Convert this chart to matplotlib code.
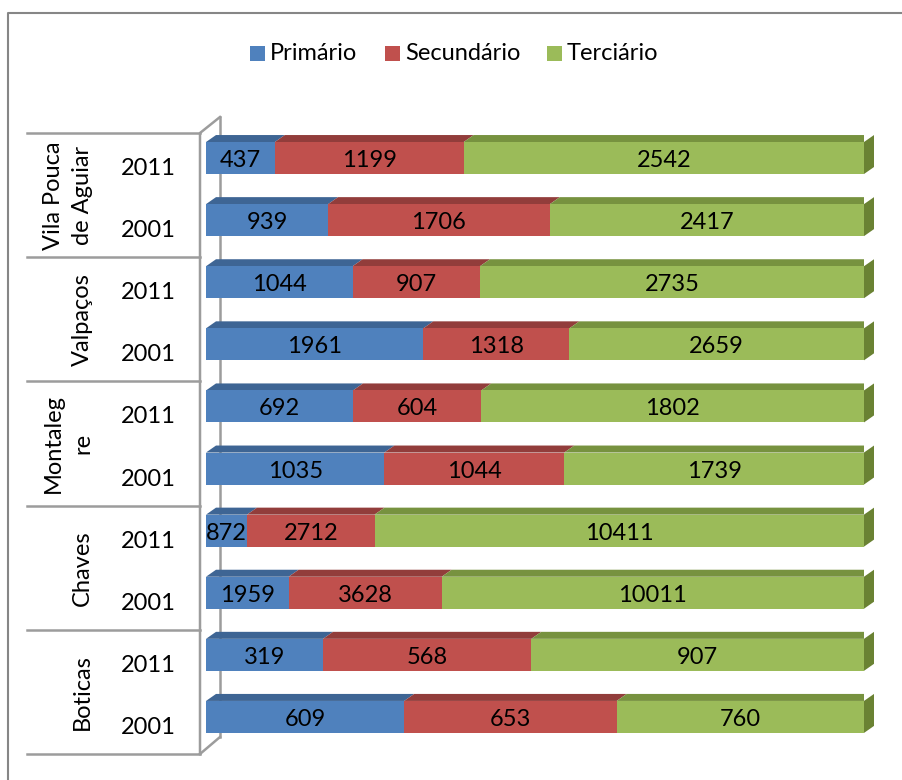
import numpy as np
import matplotlib
matplotlib.use("Agg")
import matplotlib.pyplot as plt
from matplotlib.patches import Polygon, Rectangle
from matplotlib.lines import Line2D

plt.rcParams['font.family'] = ['Lato', 'DejaVu Sans']

### data (bottom to top)
groups = ["Boticas", "Chaves", "Montaleg\nre", "Valpaços", "Vila Pouca\nde Aguiar"]
years = ["2001", "2011"]
series = ["Primário", "Secundário", "Terciário"]

primario = [609, 319, 1959, 872, 1035, 692, 1961, 1044, 939, 437]
secundario = [653, 568, 3628, 2712, 1044, 604, 1318, 907, 1706, 1199]
terciario = [760, 907, 10011, 10411, 1739, 1802, 2659, 2735, 2417, 2542]

front_col = ["#4F81BD", "#C0504D", "#9BBB59"]
top_col = ["#3E6594", "#923D3B", "#77923F"]
side_col = ["#6A8233"]

W, H = 903, 780
fig = plt.figure(figsize=(W / 100, H / 100), dpi=100)

def fx(px):
    return px / W

def fy(py):
    return 1 - py / H

# plot area (front face of bars)
x0, x1 = 206, 864
ytop, ybot = 133, 754
ax = fig.add_axes([fx(x0), fy(ybot), fx(x1 - x0), (ybot - ytop) / H])
ax.set_xlim(0, 1)
ylo, yhi = -0.597, 9.403
ax.set_ylim(ylo, yhi)
ax.axis("off")

vals = np.array([primario, secundario, terciario], dtype=float)
frac = vals / vals.sum(axis=0)
n = vals.shape[1]
pos = np.arange(n)

h = 0.515
ddx = 10 / (x1 - x0)
ddy = 7 / ((ybot - ytop) / (yhi - ylo))
fs = 17

gray = "#9C9C9C"
# wall lines (axes coords)
px2ax = lambda px: (px - x0) / (x1 - x0)
py2ay = lambda py: (ybot - py) / (ybot - ytop)
wf, wb = px2ax(200), px2ax(220)
ax.plot([wb, wb], [py2ay(737), py2ay(117)], color=gray, lw=1.8, transform=ax.transAxes, clip_on=False, zorder=0)
ax.plot([wf, wf, wb], [py2ay(754), py2ay(133), py2ay(117)], color=gray, lw=1.8,
        transform=ax.transAxes, clip_on=False, zorder=5)
ax.plot([wf, wb], [py2ay(754), py2ay(737)], color=gray, lw=1.8, transform=ax.transAxes, clip_on=False, zorder=5)

# category table lines
tr = ax.get_yaxis_transform()
for k in range(len(groups) + 1):
    yb = ylo + 2 * k
    ax.plot([px2ax(27), wf], [yb, yb], color=gray, lw=1.8, transform=tr, clip_on=False)

for i in range(n):
    y = pos[i]
    left = 0.0
    for s in range(3):
        w = frac[s, i]
        ax.barh(y, w, left=left, height=h, color=front_col[s], zorder=3)
        top = [(left, y + h / 2), (left + w, y + h / 2),
               (left + w + ddx, y + h / 2 + ddy), (left + ddx, y + h / 2 + ddy)]
        ax.add_patch(Polygon(top, closed=True, facecolor=top_col[s], edgecolor="none", zorder=2))
        ax.text(left + w / 2, y - 0.04, f"{int(vals[s, i])}", ha="center", va="center",
                fontsize=fs, color="black", zorder=6)
        left += w
    side = [(1, y - h / 2), (1, y + h / 2), (1 + ddx, y + h / 2 + ddy), (1 + ddx, y - h / 2 + ddy)]
    ax.add_patch(Polygon(side, closed=True, facecolor=side_col[0], edgecolor="none", zorder=2, clip_on=False))

# year labels
for i in range(n):
    ax.text(px2ax(148), pos[i] - 0.17, years[i % 2], transform=tr, ha="center", va="center", fontsize=fs)

# group labels
for g, name in enumerate(groups):
    ax.text(px2ax(93), 2 * g + 0.4, name, transform=tr, rotation=90, ha="right", va="center",
            fontsize=fs, linespacing=1.45, multialignment="center")

# legend
leg_items = [(250, "Primário"), (385, "Secundário"), (547, "Terciário")]
for s, (lx, lab) in enumerate(leg_items):
    fig.patches.append(Rectangle((fx(lx), fy(61)), fx(15), 15 / H, transform=fig.transFigure,
                                 facecolor=front_col[s], edgecolor="none"))
    fig.text(fx(lx + 20), fy(53), lab, ha="left", va="center", fontsize=fs)

# outer border (left and top only visible)
fig.lines.append(Line2D([fx(8), fx(8), 1.0], [0.0, fy(13), fy(13)], transform=fig.transFigure,
                        color="#868686", lw=1.5))

fig.savefig("out.png", dpi=100)
